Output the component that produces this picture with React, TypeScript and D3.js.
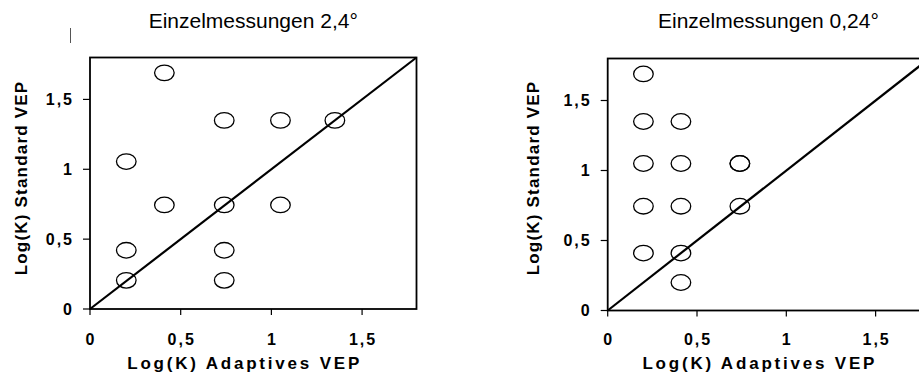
import React from "react";
import * as d3 from "d3";

// Left panel: 2,4° stimulus
const leftAdaptive = [0.41, 0.74, 1.05, 1.35, 0.2, 0.41, 0.74, 1.05, 0.2, 0.74, 0.2, 0.74];
const leftStandard = [1.69, 1.35, 1.35, 1.35, 1.055, 0.745, 0.745, 0.745, 0.42, 0.42, 0.205, 0.205];

// Right panel: 0,24° stimulus (one point at 0.74/1.05 is measured twice)
const rightAdaptive = [0.2, 0.2, 0.41, 0.2, 0.41, 0.74, 0.74, 0.2, 0.41, 0.74, 0.2, 0.41, 0.41];
const rightStandard = [1.69, 1.35, 1.35, 1.05, 1.05, 1.05, 1.05, 0.745, 0.745, 0.745, 0.41, 0.41, 0.2];

const titles = ["Einzelmessungen 2,4°", "Einzelmessungen 0,24°"];
const tickValues = [0, 0.5, 1, 1.5];
const tickLabels = ["0", "0,5", "1", "1,5"];
const axisMax = 1.8;
const xAxisTitle = "Log(K) Adaptives VEP";
const yAxisTitle = "Log(K) Standard VEP";

const FONT = "Arial, 'Liberation Sans', sans-serif";

type PanelProps = {
  left: number;
  bottom: number;
  xPx: number; // pixel width of the plot frame
  top: number;
  title: string;
  adaptive: number[];
  standard: number[];
  yTitleX: number;
};

function Panel({ left, bottom, xPx, top, title, adaptive, standard, yTitleX }: PanelProps) {
  const x = d3.scaleLinear().domain([0, axisMax]).range([left, left + xPx]);
  const y = d3.scaleLinear().domain([0, axisMax]).range([bottom, top]);
  const diag = d3.line<number>().x((d) => x(d)).y((d) => y(d))([0, axisMax]) ?? "";
  const cx = (x(0) + x(axisMax)) / 2;
  const tickSpacing = 2;
  return (
    <g>
      <text
        x={cx}
        y={28}
        textAnchor="middle"
        fontFamily={FONT}
        fontSize={21}
        fill="#000"
      >
        {title}
      </text>
      {/* frame */}
      <rect
        x={x(0)}
        y={y(axisMax)}
        width={x(axisMax) - x(0)}
        height={y(0) - y(axisMax)}
        fill="none"
        stroke="#000"
        strokeWidth={1.8}
      />
      {/* y ticks */}
      {tickValues.map((v, i) => (
        <g key={"y" + i}>
          <line x1={x(0) - 7} x2={x(0)} y1={y(v)} y2={y(v)} stroke="#000" strokeWidth={1.2} />
          <text
            x={x(0) - 18 + tickSpacing}
            y={y(v)}
            dy="0.36em"
            textAnchor="end"
            fontFamily={FONT}
            fontWeight="bold"
            fontSize={16}
            letterSpacing={tickSpacing}
          >
            {tickLabels[i]}
          </text>
        </g>
      ))}
      {/* x ticks */}
      {tickValues.map((v, i) => (
        <g key={"x" + i}>
          <line x1={x(v)} x2={x(v)} y1={y(0)} y2={y(0) + 6} stroke="#000" strokeWidth={1.2} />
          <text
            x={x(v) + tickSpacing / 2}
            y={345}
            textAnchor="middle"
            fontFamily={FONT}
            fontWeight="bold"
            fontSize={16}
            letterSpacing={tickSpacing}
          >
            {tickLabels[i]}
          </text>
        </g>
      ))}
      {/* identity line */}
      <path d={diag} fill="none" stroke="#000" strokeWidth={2.2} />
      {/* measurements */}
      {adaptive.map((a, i) => (
        <ellipse
          key={"p" + i}
          cx={x(a)}
          cy={y(standard[i])}
          rx={9.8}
          ry={7.8}
          fill="none"
          stroke="#000"
          strokeWidth={1.3}
        />
      ))}
      {/* axis titles */}
      <text
        x={cx - 10 + 1.4}
        y={369}
        textAnchor="middle"
        fontFamily={FONT}
        fontWeight="bold"
        fontSize={17}
        letterSpacing={2.8}
      >
        {xAxisTitle}
      </text>
      <text
        transform={`translate(${yTitleX},${178}) rotate(-90)`}
        textAnchor="middle"
        fontFamily={FONT}
        fontWeight="bold"
        fontSize={17}
        letterSpacing={1.2}
      >
        {yAxisTitle}
      </text>
    </g>
  );
}

export default function App() {
  return (
    <svg
      width={919}
      height={379}
      style={{ position: "absolute", left: 0, top: 0, background: "#fff" }}
    >
      <rect width={919} height={379} fill="#fff" />
      <line x1={70.5} x2={70.5} y1={28} y2={43} stroke="#555" strokeWidth={1} />
      <Panel
        left={90}
        bottom={309}
        xPx={326.5}
        top={57.5}
        title={titles[0]}
        adaptive={leftAdaptive}
        standard={leftStandard}
        yTitleX={27}
      />
      <Panel
        left={607.7}
        bottom={310.5}
        xPx={321.5}
        top={58.5}
        title={titles[1]}
        adaptive={rightAdaptive}
        standard={rightStandard}
        yTitleX={538.5}
      />
    </svg>
  );
}
